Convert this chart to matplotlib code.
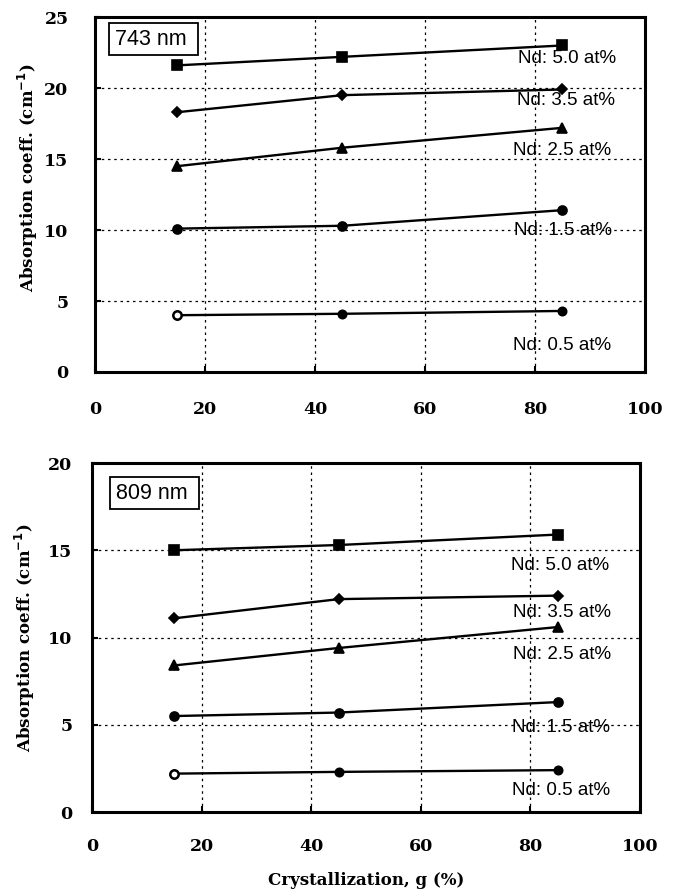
import matplotlib.pyplot as plt

# Crystallization g (%)
g = [15, 45, 85]

# Nd concentrations (at%), top to bottom
nd_labels = ["Nd: 5.0 at%", "Nd: 3.5 at%", "Nd: 2.5 at%", "Nd: 1.5 at%", "Nd: 0.5 at%"]

# Absorption coefficient at 743 nm (cm^-1)
abs_743 = [
    [21.6, 22.2, 23.0],
    [18.3, 19.5, 19.9],
    [14.5, 15.8, 17.2],
    [10.1, 10.3, 11.4],
    [4.0, 4.1, 4.3],
]

# Absorption coefficient at 809 nm (cm^-1)
abs_809 = [
    [15.0, 15.3, 15.9],
    [11.1, 12.2, 12.4],
    [8.4, 9.4, 10.6],
    [5.5, 5.7, 6.3],
    [2.2, 2.3, 2.4],
]

markers = ["s", "D", "^", "o", "o"]
msizes = [6.5, 5.5, 7, 6.5, 6]

serif = "DejaVu Serif"
sans = "Liberation Sans"

fig = plt.figure(figsize=(6.75, 8.94), dpi=100)
ax_top = fig.add_axes([0.1407, 0.5839, 0.8148, 0.397])
ax_bot = fig.add_axes([0.1363, 0.0917, 0.812, 0.3904])


def style_axes(ax, ymax, ypad, xpad, label_y):
    ax.set_xlim(0, 100)
    ax.set_ylim(0, ymax)
    ax.set_xticks(range(0, 101, 20))
    ax.set_yticks(range(0, ymax + 1, 5))
    ax.grid(True, color="black", linestyle=(0, (2, 3)), linewidth=0.9)
    ax.set_axisbelow(True)
    for sp in ax.spines.values():
        sp.set_linewidth(2.2)
    ax.tick_params(direction="in", length=4, width=1.5)
    ax.tick_params(axis="x", pad=xpad)
    ax.tick_params(axis="y", pad=ypad)
    for lab in ax.get_xticklabels() + ax.get_yticklabels():
        lab.set_fontfamily(serif)
        lab.set_fontweight("bold")
        lab.set_fontsize(12.5)
    ax.set_ylabel("Absorption coeff. (cm$^{\\mathbf{-1}}$)", family=serif,
                  weight="bold", fontsize=12)
    ax.yaxis.set_label_coords(-0.1, label_y)


top_label_pos = [(77, 22.1), (76.8, 19.15), (76.0, 15.6), (76.2, 10.0), (76.0, 1.9)]
bot_label_pos = [(76.4, 14.15), (76.8, 11.46), (76.8, 9.0), (76.6, 4.87), (76.6, 1.26)]

style_axes(ax_top, 25, 19, 21, 0.546)
style_axes(ax_bot, 20, 14, 19, 0.5)

panels = [(ax_top, abs_743, top_label_pos, "743 nm", (0.036, 0.967)),
          (ax_bot, abs_809, bot_label_pos, "809 nm", (0.043, 0.944))]

for ax, data, pos, tag, tag_xy in panels:
    for i, vals in enumerate(data):
        ax.plot(g, vals, "-", color="black", linewidth=1.7,
                marker=markers[i], markersize=msizes[i],
                markerfacecolor="black", markeredgecolor="black",
                markeredgewidth=1.2, zorder=3)
        ax.text(pos[i][0], pos[i][1], nd_labels[i], family=sans,
                fontsize=13.5, va="center", ha="left", zorder=4)
    # lowest series starts with an open circle
    ax.plot(g[0], data[-1][0], marker="o", markersize=msizes[-1],
            markerfacecolor="white", markeredgecolor="black",
            markeredgewidth=1.8, zorder=4)
    ax.text(tag_xy[0], tag_xy[1], tag + " ", transform=ax.transAxes,
            family=sans, fontsize=15.5, va="top", ha="left",
            bbox=dict(boxstyle="square,pad=0.26", facecolor="white",
                      edgecolor="black", linewidth=1.3))

ax_bot.set_xlabel("Crystallization, g (%)", family=serif, weight="bold",
                  fontsize=12, labelpad=12)

fig.savefig("out.png", dpi=100)
